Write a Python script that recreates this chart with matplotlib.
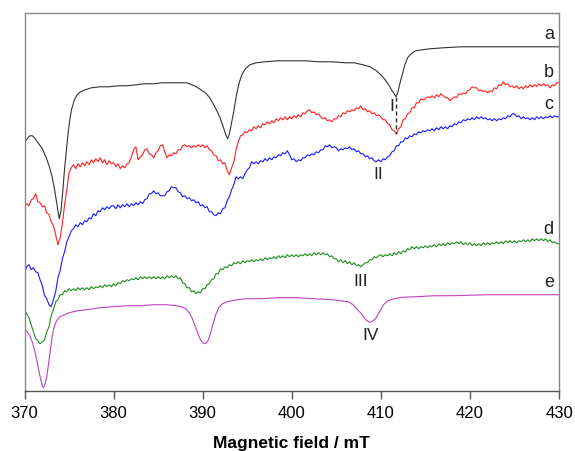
import numpy as np
import matplotlib.pyplot as plt

plt.rcParams['font.family'] = ['Liberation Sans', 'DejaVu Sans']

# field axis for the noisy spectra b, c, d (0.25 mT steps)
field = np.arange(370.0, 430.001, 0.25)

# spectrum a (smooth, read at uneven field points)
a_field = [370.0, 370.3, 370.6, 370.9, 371.2, 371.6, 372.0, 372.4, 372.8, 373.1,
           373.4, 373.7, 373.9, 374.1, 374.3, 374.5, 374.7, 374.9, 375.1, 375.3,
           375.6, 375.9, 376.3, 376.8, 377.5, 378.5, 379.5, 380.5, 381.5, 382.5,
           383.5, 384.5, 385.5, 386.5, 387.5, 388.2, 388.8, 389.3, 389.8, 390.3,
           390.8, 391.3, 391.7, 392.0, 392.3, 392.6, 392.8, 393.0, 393.2, 393.5,
           393.8, 394.1, 394.4, 394.8, 395.3, 396.0, 397.0, 398.5, 400.0, 401.5,
           403.0, 404.5, 406.0, 407.0, 408.0, 408.8, 409.5, 410.0, 410.4, 410.8,
           411.2, 411.5, 411.7, 411.9, 412.1, 412.4, 412.7, 413.0, 413.4, 413.9,
           414.6, 415.5, 417.0, 419.0, 421.0, 423.0, 425.0, 427.0, 430.0]
a_signal = [248, 252, 255, 255, 252, 247, 242, 234, 224, 214,
            200, 183, 172, 180, 200, 222, 240, 258, 272, 282,
            291, 296, 299, 301, 303, 304, 304, 305, 305, 306,
            307, 307, 308, 308, 308, 308, 306, 304, 301, 298,
            293, 285, 278, 272, 264, 256, 252, 257, 266, 280,
            296, 308, 316, 322, 326, 328, 329, 330, 330, 330,
            329, 329, 328, 328, 326, 324, 320, 316, 312, 307,
            301, 297, 294, 298, 306, 316, 326, 333, 337, 340,
            341, 342, 343, 344, 344, 344, 344, 344, 344]

b_signal = [184, 187, 185, 191, 192, 197, 189, 188, 184, 185, 178, 176, 169, 165, 156, 146, 153, 167, 186, 201,
            218, 223, 226, 222, 227, 224, 228, 225, 229, 226, 231, 228, 232, 229, 233, 228, 231, 226, 230, 227,
            228, 224, 227, 222, 225, 223, 227, 228, 234, 241, 244, 231, 234, 236, 241, 242, 237, 236, 233, 238,
            240, 245, 246, 239, 233, 236, 235, 238, 237, 241, 241, 245, 246, 244, 245, 243, 245, 244, 246, 244,
            246, 243, 245, 241, 240, 236, 235, 230, 231, 227, 228, 220, 216, 223, 229, 241, 249, 255, 256, 259,
            258, 261, 260, 264, 262, 265, 263, 267, 266, 269, 267, 270, 268, 272, 270, 273, 271, 274, 271, 274,
            272, 275, 273, 276, 274, 278, 277, 280, 281, 278, 279, 276, 277, 274, 272, 273, 270, 271, 269, 272,
            272, 275, 274, 278, 277, 280, 279, 281, 280, 283, 282, 285, 281, 282, 279, 280, 277, 278, 275, 276,
            274, 271, 271, 267, 266, 261, 260, 257, 262, 264, 271, 272, 277, 278, 283, 283, 288, 288, 292, 291,
            292, 294, 293, 295, 293, 296, 294, 297, 295, 293, 293, 290, 292, 294, 293, 297, 296, 298, 297, 300,
            301, 304, 303, 303, 300, 301, 299, 300, 298, 300, 299, 303, 302, 306, 305, 309, 306, 307, 304, 305,
            303, 305, 302, 304, 302, 305, 303, 306, 304, 306, 304, 307, 305, 307, 305, 306, 303, 306, 305, 308,
            308]

c_signal = [117, 124, 126, 121, 123, 119, 118, 111, 105, 95, 92, 86, 84, 91, 99, 113, 120, 132, 139, 149,
            154, 160, 162, 166, 164, 168, 166, 170, 169, 173, 172, 177, 175, 180, 179, 183, 181, 184, 182, 185,
            185, 182, 186, 183, 186, 184, 187, 184, 187, 185, 188, 186, 189, 187, 191, 192, 197, 197, 200, 197,
            198, 195, 195, 195, 199, 200, 204, 203, 203, 199, 198, 194, 195, 192, 193, 190, 191, 188, 189, 185,
            186, 183, 184, 179, 179, 176, 175, 178, 177, 182, 183, 190, 194, 201, 206, 214, 212, 214, 212, 217,
            221, 223, 229, 227, 229, 227, 230, 229, 232, 230, 233, 231, 234, 233, 236, 235, 238, 237, 240, 236,
            231, 232, 229, 231, 230, 233, 233, 236, 235, 237, 236, 239, 238, 241, 241, 245, 244, 246, 243, 244,
            243, 240, 242, 241, 243, 242, 244, 241, 242, 239, 240, 237, 237, 234, 235, 232, 233, 230, 229, 231,
            229, 232, 231, 234, 235, 239, 240, 245, 245, 249, 249, 253, 252, 255, 254, 257, 256, 259, 258, 260,
            259, 261, 260, 262, 260, 263, 261, 264, 262, 264, 262, 265, 264, 267, 266, 269, 268, 271, 270, 272,
            271, 273, 271, 274, 272, 274, 272, 273, 271, 272, 270, 272, 270, 272, 271, 273, 272, 275, 274, 277,
            277, 274, 275, 272, 274, 272, 273, 271, 273, 271, 274, 272, 274, 272, 274, 273, 275, 273, 275, 274,
            274]

d_signal = [80, 77, 73, 66, 59, 52, 50, 47, 49, 51, 59, 64, 75, 81, 89, 91, 96, 96, 100, 99,
            102, 100, 102, 100, 103, 101, 103, 101, 103, 101, 104, 102, 104, 103, 105, 103, 106, 104, 106, 104,
            107, 105, 108, 107, 110, 109, 111, 110, 112, 111, 113, 111, 114, 112, 114, 112, 114, 112, 114, 112,
            114, 112, 114, 112, 115, 113, 115, 113, 115, 112, 113, 108, 107, 103, 103, 99, 100, 97, 99, 98,
            102, 102, 106, 107, 111, 112, 117, 117, 122, 121, 124, 123, 126, 125, 128, 127, 129, 127, 130, 128,
            130, 129, 131, 129, 131, 130, 132, 130, 133, 131, 133, 132, 134, 132, 135, 133, 135, 133, 136, 134,
            136, 134, 136, 134, 136, 135, 137, 135, 137, 135, 138, 136, 138, 136, 138, 136, 137, 134, 135, 132,
            132, 129, 131, 128, 130, 127, 129, 126, 128, 125, 126, 124, 126, 128, 128, 131, 131, 134, 133, 135,
            136, 134, 136, 135, 137, 135, 138, 136, 139, 137, 140, 139, 142, 141, 144, 142, 144, 142, 144, 143,
            145, 143, 145, 144, 146, 144, 147, 145, 147, 145, 148, 146, 148, 147, 149, 147, 149, 146, 148, 146,
            148, 145, 147, 145, 147, 145, 148, 146, 148, 146, 148, 147, 149, 147, 149, 147, 150, 148, 150, 148,
            150, 148, 150, 149, 151, 149, 151, 149, 152, 150, 152, 150, 152, 150, 152, 149, 151, 148, 149, 147,
            147]

# spectrum e (smooth)
e_field = [370.0, 370.3, 370.6, 370.9, 371.2, 371.5, 371.8, 372.0, 372.1, 372.25,
           372.5, 372.7, 372.9, 373.1, 373.3, 373.6, 374.0, 374.5, 375.0, 376.0,
           377.0, 378.5, 380.0, 381.5, 383.0, 384.5, 386.0, 387.0, 387.6, 388.1,
           388.5, 388.8, 389.1, 389.4, 389.7, 390.0, 390.3, 390.6, 390.9, 391.2,
           391.5, 391.8, 392.2, 392.8, 393.8, 395.0, 396.5, 398.5, 400.5, 402.5,
           404.5, 405.5, 406.3, 406.9, 407.4, 407.9, 408.3, 408.7, 409.0, 409.4,
           409.8, 410.3, 410.8, 411.5, 412.5, 414.0, 416.0, 418.0, 420.0, 422.0,
           426.0, 430.0]
e_signal = [61, 59, 55, 48, 38, 25, 12, 5, 3, 5,
            14, 27, 40, 54, 63, 70, 74, 76, 78, 80,
            81, 83, 84, 85, 85, 86, 86, 85, 84, 82,
            78, 73, 66, 59, 52, 48, 47, 50, 58, 68,
            77, 83, 87, 89, 91, 92, 92, 93, 93, 92,
            91, 90, 89, 86, 81, 76, 71, 68.5, 69, 72,
            78, 86, 90, 92, 93.5, 94, 95, 95, 95.5, 96,
            96, 96]

trace_names = ['a', 'b', 'c', 'd', 'e']
name_pos = [356, 318, 286, 161, 108]
roman = ['I', 'II', 'III', 'IV']
roman_pos = [(411.2, 284), (409.75, 216), (407.7, 109), (408.9, 55)]

fig = plt.figure(figsize=(5.75, 4.51), dpi=100)
ax = fig.add_axes([24.5 / 575, (451 - 390.7) / 451, (559 - 24.5) / 575, (390.7 - 13.3) / 451])

lw = 0.8
ax.plot(a_field, a_signal, color='#333333', lw=lw)
ax.plot(field, b_signal, color='#ff2020', lw=lw)
ax.plot(field, c_signal, color='#1a1aff', lw=lw)
ax.plot(field, d_signal, color='#1e8c1e', lw=lw)
ax.plot(e_field, e_signal, color='#c040c0', lw=lw)

# dashed marker between the minima of a and b near 411.7 mT
ia = int(np.argmin(np.where(np.array(a_field) > 405, a_signal, 1e9)))
ib = int(np.argmin(np.where(field > 405, b_signal, 1e9)))
ax.plot([a_field[ia], a_field[ia]], [a_signal[ia], b_signal[ib]], color='#333333',
        lw=1.0, ls=(0, (3, 2)))

for name, y in zip(trace_names, name_pos):
    ax.text(428.85, y, name, fontsize=13, ha='center', va='center', color='#222222')
for lab, (x, y) in zip(roman, roman_pos):
    ax.text(x, y, lab, fontsize=12.5, ha='center', va='center', color='#222222')

ax.set_xlim(370, 430)
ax.set_ylim(0, 377.5)
ax.set_xticks([370, 380, 390, 400, 410, 420, 430])
ax.set_yticks([])
ax.tick_params(axis='x', direction='out', length=6, width=1, color='#555555',
               labelsize=12, pad=5)
for s in ax.spines.values():
    s.set_color('#888888')
    s.set_linewidth(1.0)
ax.spines['bottom'].set_color('#555555')
ax.set_xlabel('Magnetic field / mT', fontsize=12.5, fontweight='bold', labelpad=11)

fig.savefig('out.png', dpi=100)
